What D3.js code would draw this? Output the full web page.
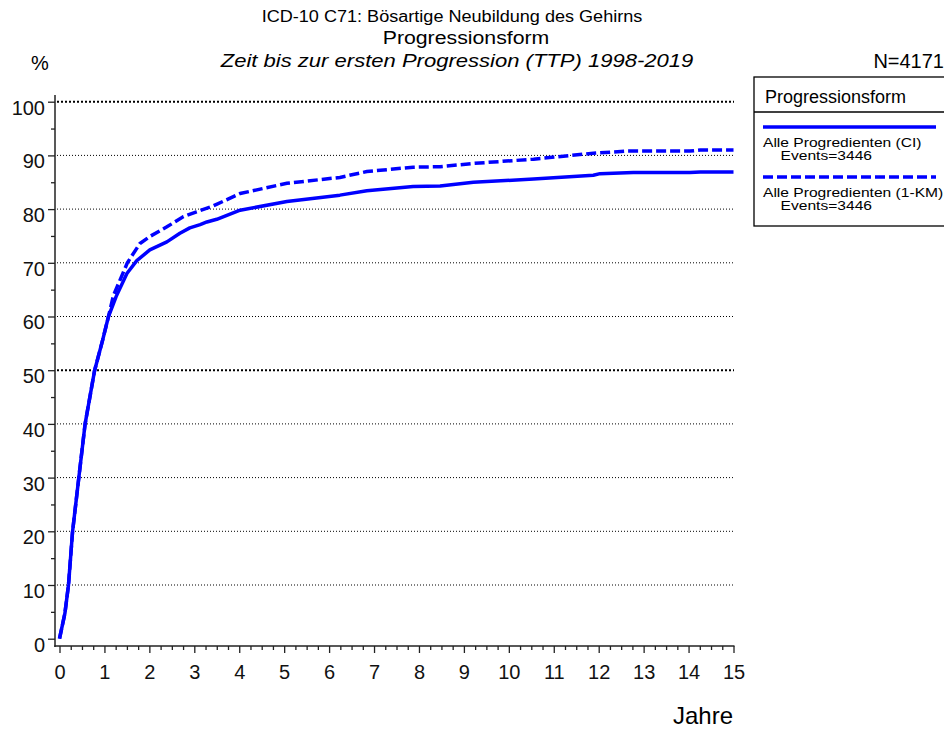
<!DOCTYPE html>
<html>
<head>
<meta charset="utf-8">
<script src="https://cdn.jsdelivr.net/npm/d3@7"></script>
<style>
  html, body { margin: 0; padding: 0; background: #fff; }
  svg { display: block; font-family: "Liberation Sans", Arial, sans-serif; }
</style>
</head>
<body>
<svg id="chart" width="944" height="729"></svg>
<script>
// Cumulative progression (%) over years since diagnosis
const timesCI = [0, 0.12, 0.2, 0.29, 0.43, 0.57, 0.78, 0.96, 1.09, 1.26, 1.5, 1.72, 2.01, 2.39, 2.68, 2.9, 3.13, 3.28, 3.5, 4.02, 5.06, 6.24, 6.84, 7.87, 8.47, 9.21, 10.55, 11.88, 12.03, 12.77, 14.03, 14.26, 15];
const valuesCI = [0, 4.7, 10, 19.9, 30, 40, 49.9, 55.6, 60, 63.7, 68.0, 70.4, 72.4, 73.9, 75.5, 76.5, 77.1, 77.6, 78.1, 79.8, 81.4, 82.6, 83.4, 84.2, 84.3, 85.0, 85.6, 86.3, 86.6, 86.8, 86.8, 86.9, 86.9];

const timesKM = [0, 0.12, 0.2, 0.29, 0.43, 0.57, 0.78, 0.96, 1.09, 1.2, 1.51, 1.79, 2.01, 2.39, 2.76, 3.05, 3.42, 4.02, 5.06, 6.24, 6.84, 7.87, 8.47, 9.21, 10.55, 11.88, 12.62, 14.03, 14.26, 15];
const valuesKM = [0, 4.7, 10, 19.9, 30, 40, 49.9, 55.6, 60, 63.9, 70, 73.6, 74.9, 76.7, 78.6, 79.5, 80.6, 82.9, 84.8, 85.9, 87.0, 87.8, 87.9, 88.5, 89.3, 90.4, 90.8, 90.8, 91.0, 91.0];

const yTicks = [0, 10, 20, 30, 40, 50, 60, 70, 80, 90, 100];
const xTicks = [0, 1, 2, 3, 4, 5, 6, 7, 8, 9, 10, 11, 12, 13, 14, 15];

const titleLines = ["ICD-10 C71: Bösartige Neubildung des Gehirns", "Progressionsform", "Zeit bis zur ersten Progression (TTP) 1998-2019"];
const legendTitle = "Progressionsform";
const seriesNames = ["Alle Progredienten (CI)", "Alle Progredienten (1-KM)"];
const seriesEvents = ["Events=3446", "Events=3446"];
const totalN = "N=4171";

const svg = d3.select("#chart");
const blue = "#0000ff";
const axisColor = "#222";

const x = d3.scaleLinear().domain([0, 15]).range([59.5, 733.5]);
const y = d3.scaleLinear().domain([0, 100]).range([638.7, 101.7]);

// Text drawn slightly widened horizontally (wide-set output font)
function wideText(parent, px, py, str, size, sx, anchor) {
  return parent.append("text")
    .attr("transform", `translate(${px},${py}) scale(${sx},1)`)
    .attr("text-anchor", anchor || "start")
    .attr("font-size", size)
    .text(str);
}

// Gridlines (dotted); 50 and 100 drawn heavier
svg.append("g").selectAll("line")
  .data(yTicks.filter(d => d > 0))
  .join("line")
  .attr("x1", 57).attr("x2", 734)
  .attr("y1", d => y(d)).attr("y2", d => y(d))
  .attr("stroke", "#000")
  .attr("stroke-width", d => (d === 50 || d === 100) ? 2 : 1)
  .attr("stroke-dasharray", d => (d === 50 || d === 100) ? "2,2" : "1,2");

// Y axis
const yAxisG = svg.append("g").attr("transform", "translate(55,0)");
yAxisG.call(d3.axisLeft(y).tickValues(yTicks).tickSize(7).tickPadding(3).tickFormat(d3.format("d")));
yAxisG.append("g").call(d3.axisLeft(y).tickValues(d3.range(5, 100, 10)).tickSize(4).tickFormat(""));
yAxisG.selectAll(".domain").remove();
yAxisG.append("line").attr("x1", 0).attr("x2", 0).attr("y1", 95).attr("y2", 647)
  .attr("stroke", axisColor).attr("stroke-width", 1.5);
yAxisG.selectAll(".tick line").attr("stroke", axisColor).attr("stroke-width", 1.3);
yAxisG.selectAll(".tick text")
  .attr("font-size", 20).attr("fill", "#111")
  .attr("font-family", "Liberation Sans, Arial, sans-serif")
  .attr("dy", "0.62em");

// X axis
const xAxisG = svg.append("g").attr("transform", "translate(0,646)");
xAxisG.call(d3.axisBottom(x).tickValues(xTicks).tickSize(7).tickPadding(12).tickFormat(d3.format("d")));
xAxisG.append("g").call(d3.axisBottom(x).tickValues(d3.range(0, 15.01, 0.25).filter(d => d % 1 !== 0)).tickSize(4).tickFormat(""));
xAxisG.selectAll(".domain").remove();
xAxisG.append("line").attr("x1", 54.3).attr("x2", 734.5).attr("y1", 0).attr("y2", 0)
  .attr("stroke", axisColor).attr("stroke-width", 1.5);
xAxisG.selectAll(".tick line").attr("stroke", axisColor).attr("stroke-width", 1.3);
xAxisG.selectAll(".tick text")
  .attr("font-size", 20).attr("fill", "#111")
  .attr("font-family", "Liberation Sans, Arial, sans-serif");

// Curves
const line = d3.line().x(d => x(d[0])).y(d => y(d[1]));
const ciData = d3.zip(timesCI, valuesCI);
const kmData = d3.zip(timesKM, valuesKM);

svg.append("path").datum(kmData)
  .attr("d", line).attr("fill", "none")
  .attr("stroke", blue).attr("stroke-width", 3.5)
  .attr("stroke-dasharray", "10,4");
svg.append("path").datum(ciData)
  .attr("d", line).attr("fill", "none")
  .attr("stroke", blue).attr("stroke-width", 3.5)
  .attr("stroke-linejoin", "round");

// Titles
const titleG = svg.append("g").attr("fill", "#000");
wideText(titleG, 452, 22, titleLines[0], 16, 1.13, "middle");
wideText(titleG, 466, 44, titleLines[1], 19, 1.12, "middle");
wideText(titleG, 457, 67, titleLines[2], 19, 1.16, "middle").attr("font-style", "italic");

svg.append("text").attr("x", 31).attr("y", 70).attr("font-size", 20).text("%");
svg.append("text").attr("x", 944).attr("y", 68).attr("text-anchor", "end").attr("font-size", 20).text(totalN);
svg.append("text").attr("x", 733).attr("y", 724).attr("text-anchor", "end").attr("font-size", 24).text("Jahre");

// Legend
const lg = svg.append("g");
lg.append("rect").attr("x", 754).attr("y", 77).attr("width", 210).attr("height", 149)
  .attr("fill", "#fff").attr("stroke", "#000").attr("stroke-width", 1.3);
lg.append("line").attr("x1", 754).attr("x2", 964).attr("y1", 112).attr("y2", 112)
  .attr("stroke", "#000").attr("stroke-width", 1.3);
lg.append("text").attr("x", 765).attr("y", 103).attr("font-size", 18).text(legendTitle);

const entryY = [127, 177];
const dashes = [null, "10,4"];
seriesNames.forEach((name, i) => {
  lg.append("line").attr("x1", 763).attr("x2", 936)
    .attr("y1", entryY[i]).attr("y2", entryY[i])
    .attr("stroke", blue).attr("stroke-width", 3.5)
    .attr("stroke-dasharray", dashes[i]);
  // name and event count as one two-line label
  const t = lg.append("text")
    .attr("transform", `translate(763,${entryY[i] + 19.5}) scale(1.3,1)`)
    .attr("font-size", 12);
  t.append("tspan").attr("x", 0).attr("y", 0).text(name);
  t.append("tspan").attr("x", 13.5).attr("y", 13.5).text(seriesEvents[i]);
});
</script>
</body>
</html>
